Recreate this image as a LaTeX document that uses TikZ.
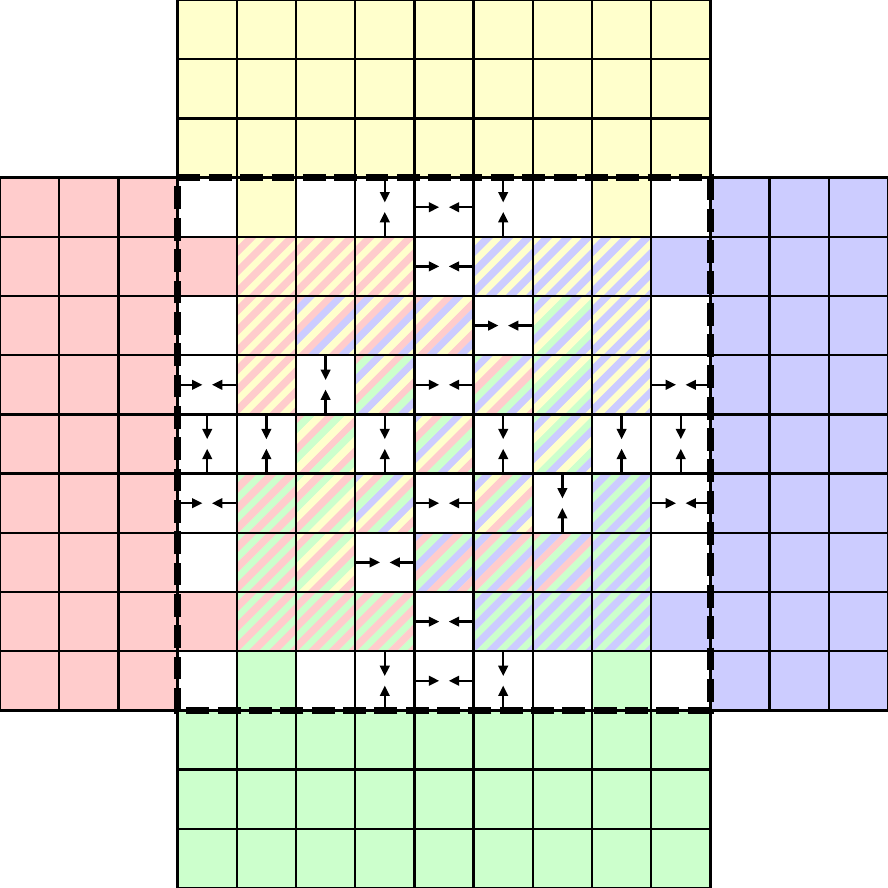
\documentclass[tikz,border=0pt]{standalone}
\usetikzlibrary{arrows.meta}
\definecolor{cy}{RGB}{255,255,204}
\definecolor{cr}{RGB}{255,204,204}
\definecolor{cb}{RGB}{204,204,255}
\definecolor{cg}{RGB}{204,255,204}
\tikzset{
  gridline/.style={line width=1.1pt, black},
  arr/.style={line width=1.1pt, -{Triangle[length=5pt,width=4.6pt]}},
  border/.style={line width=3.3pt, dash pattern=on 11pt off 4.06pt},
}
\def\sw{0.17}
% stripe cell: #1 = row (0..8 from top of centre), #2 = column, #3 = colours
\newcommand\stripecell[3]{%
  \begin{scope}
    \pgfmathsetmacro\xo{3+#2}
    \pgfmathsetmacro\yo{11-#1}
    \clip (\xo,\yo) rectangle ++(1,1);
    \foreach \cc [count=\nn] in {#3} {\xdef\ncol{\nn}}
    \foreach \cc [count=\m from 0] in {#3} {
      \foreach \k in {0,...,12} {
        \pgfmathsetmacro\stt{\xo-1+(\k*\ncol+\m)*\sw}
        \fill[\cc] (\stt-1,\yo-1) -- ++(3,3) -- ++(\sw+0.006,0) -- ++(-3,-3) -- cycle;
      }
    }
  \end{scope}}
\newcommand\solidcell[3]{\fill[#3] (3+#2,11-#1) rectangle ++(1,1);}
\newcommand\hcell[2]{%
  \begin{scope}[shift={(3+#2,11-#1)}]
    \coordinate (hl) at (0,0.5); \coordinate (hlt) at (0.42,0.5);
    \coordinate (hr) at (1,0.5); \coordinate (hrt) at (0.58,0.5);
    \draw[arr] (hl) -- (hlt);
    \draw[arr] (hr) -- (hrt);
  \end{scope}}
\newcommand\vcell[2]{%
  \begin{scope}[shift={(3+#2,11-#1)}]
    \coordinate (vt) at (0.5,1); \coordinate (vtt) at (0.5,0.58);
    \coordinate (vb) at (0.5,0); \coordinate (vbt) at (0.5,0.42);
    \draw[arr] (vt) -- (vtt);
    \draw[arr] (vb) -- (vbt);
  \end{scope}}
\begin{document}
\begin{tikzpicture}
\useasboundingbox (0,0) rectangle (15,15);
% outer regions
\fill[cy] (3,12) rectangle (12,15);
\fill[cr] (0,3) rectangle (3,12);
\fill[cb] (12,3) rectangle (15,12);
\fill[cg] (3,0) rectangle (12,3);
% solid centre cells
\solidcell{0}{1}{cy}\solidcell{0}{7}{cy}
\solidcell{8}{1}{cg}\solidcell{8}{7}{cg}
\solidcell{1}{0}{cr}\solidcell{7}{0}{cr}
\solidcell{1}{8}{cb}\solidcell{7}{8}{cb}
% striped cells
\stripecell{1}{1}{cy,cr}\stripecell{1}{2}{cy,cr}\stripecell{1}{3}{cy,cr}
\stripecell{1}{5}{cy,cb}\stripecell{1}{6}{cy,cb}\stripecell{1}{7}{cy,cb}
\stripecell{2}{1}{cy,cr}\stripecell{2}{2}{cr,cb,cy}\stripecell{2}{3}{cr,cb,cy}
\stripecell{2}{4}{cr,cb,cy}\stripecell{2}{6}{cg,cb,cy}\stripecell{2}{7}{cy,cb}
\stripecell{3}{1}{cy,cr}\stripecell{3}{3}{cr,cg,cb,cy}\stripecell{3}{5}{cg,cb,cy,cr}
\stripecell{3}{6}{cg,cb,cy}\stripecell{3}{7}{cy,cb}
\stripecell{4}{2}{cr,cg,cy}\stripecell{4}{4}{cb,cy,cr,cg}\stripecell{4}{6}{cg,cb,cy}
\stripecell{5}{1}{cg,cr}\stripecell{5}{2}{cg,cy,cr}\stripecell{5}{3}{cb,cy,cr,cg}
\stripecell{5}{5}{cg,cb,cy,cr}\stripecell{5}{7}{cg,cb}
\stripecell{6}{1}{cg,cr}\stripecell{6}{2}{cy,cr,cg}\stripecell{6}{4}{cb,cr,cg}
\stripecell{6}{5}{cg,cb,cr}\stripecell{6}{6}{cr,cg,cb}\stripecell{6}{7}{cg,cb}
\stripecell{7}{1}{cg,cr}\stripecell{7}{2}{cg,cr}\stripecell{7}{3}{cg,cr}
\stripecell{7}{5}{cg,cb}\stripecell{7}{6}{cg,cb}\stripecell{7}{7}{cg,cb}
% grid
\draw[gridline] (3,0) grid (12,15);
\draw[gridline] (0,3) grid (15,12);
% arrows
\hcell{0}{4}\hcell{1}{4}\hcell{2}{5}\hcell{3}{0}\hcell{3}{4}\hcell{3}{8}
\hcell{5}{0}\hcell{5}{4}\hcell{5}{8}\hcell{6}{3}\hcell{7}{4}\hcell{8}{4}
\vcell{0}{3}\vcell{0}{5}\vcell{3}{2}\vcell{4}{0}\vcell{4}{1}\vcell{4}{3}
\vcell{4}{5}\vcell{4}{7}\vcell{4}{8}\vcell{5}{6}\vcell{8}{3}\vcell{8}{5}
% dashed border
\coordinate (b1) at (3,12); \coordinate (b2) at (12,12);
\coordinate (b3) at (12,3); \coordinate (b4) at (3,3);
\draw[border] (b1) -- (b2) -- (b3) -- (b4) -- cycle;
\end{tikzpicture}
\end{document}
